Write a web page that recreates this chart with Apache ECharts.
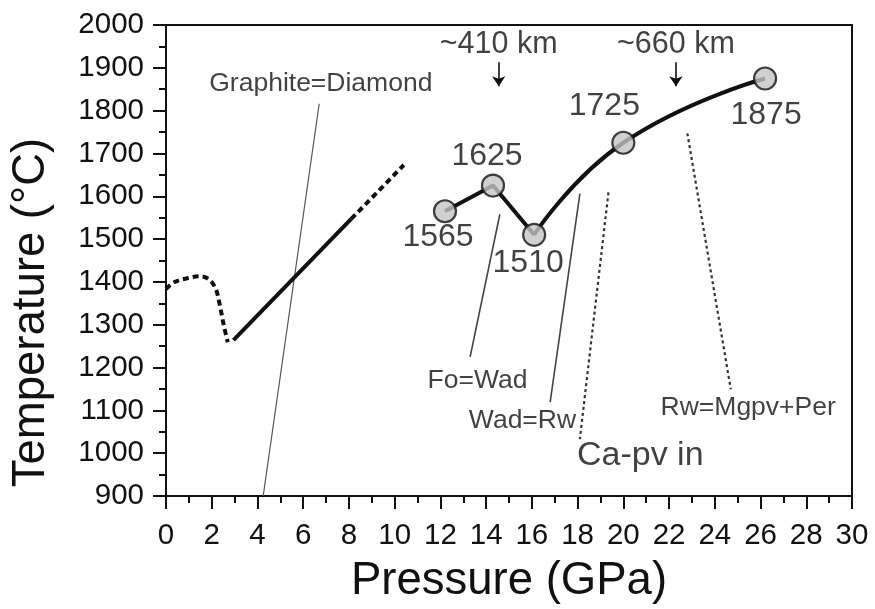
<!DOCTYPE html>
<html>
<head>
<meta charset="utf-8">
<script src="https://cdn.jsdelivr.net/npm/echarts@6/dist/echarts.min.js"></script>
<style>
  html, body { margin: 0; padding: 0; background: #fff; overflow: hidden; }
  #chart { width: 875px; height: 609px; display: block; }
</style>
</head>
<body>
<div id="chart"></div>
<script>
// Adiabat temperatures along the mantle profile (pressure in GPa, temperature in °C)
const pressure = [12.2, 14.3, 16.1, 20.0, 26.2];
const temperature = [1565, 1625, 1510, 1725, 1875];

// Shallow geotherm: dashed knee, solid segment, dashed extension
const shallowKnee = [[0.0, 1383], [0.35, 1399], [0.96, 1409], [1.48, 1413], [1.88, 1406], [2.18, 1383], [2.36, 1344], [2.53, 1298], [2.7, 1259]];
const shallowSolid = [[2.95, 1264], [8.1, 1547]];
const shallowDashed = [[8.1, 1547], [10.4, 1673]];

// Phase boundaries
const graphiteDiamond = [[4.25, 900], [6.7, 1816]];
const foWad = [[14.6, 1558], [13.3, 1225]];
const wadRw = [[18.1, 1606], [16.8, 1119]];
const caPvIn = [[19.35, 1609], [18.1, 1033]];
const rwMgpvPer = [[22.8, 1747], [24.7, 1149]];

// Depth markers: label, pressure, arrow top, arrow tip, label height
const depthMarks = [['~410 km', 14.55, 1913, 1857, 1954], ['~660 km', 22.3, 1913, 1857, 1954]];

// Boundary names anchored in data space: text, pressure, temperature
const boundaryNotes = [
  ['Graphite=Diamond', 6.77, 1864],
  ['Fo=Wad', 13.62, 1169],
  ['Wad=Rw', 15.59, 1075],
  ['Rw=Mgpv+Per', 25.46, 1107]
];
const capvNote = ['Ca-pv in', 20.74, 994];

// Axis ranges: min, max, step
const xRange = [0, 30, 2];
const yRange = [900, 2000, 100];

const FONT = '"Liberation Sans", Arial, Helvetica, sans-serif';
const INK = '#111';

const points = pressure.map((p, i) => [p, temperature[i]]);
const labelOffsets = [[-7, 26], [-6, -29], [-6, 28], [-19, -37], [1, 37]];

function segment(name, data, opts) {
  return Object.assign({
    name: name, type: 'line', data: data, symbol: 'none', silent: true,
    lineStyle: { color: INK, width: 4 }, z: 3
  }, opts || {});
}

const series = [
  segment('knee', shallowKnee, { smooth: 0.35, lineStyle: { color: INK, width: 4, type: [6, 4] } }),
  segment('shallow', shallowSolid),
  segment('shallowExt', shallowDashed, { lineStyle: { color: INK, width: 4, type: [6, 4] } }),
  segment('Graphite=Diamond', graphiteDiamond, { lineStyle: { color: '#555', width: 1.2 }, z: 2 }),
  segment('Fo=Wad', foWad, { lineStyle: { color: '#444', width: 1.6 }, z: 2 }),
  segment('Wad=Rw', wadRw, { lineStyle: { color: '#444', width: 1.6 }, z: 2 }),
  segment('Ca-pv in', caPvIn, { lineStyle: { color: '#333', width: 2.2, type: [3, 3] }, z: 2 }),
  segment('Rw=Mgpv+Per', rwMgpvPer, { lineStyle: { color: '#333', width: 2.2, type: [3, 3] }, z: 2 }),
  segment('adiabatA', points.slice(0, 3)),
  segment('adiabatB', points.slice(2), { smooth: 0.5 }),
  {
    name: 'adiabat points', type: 'scatter', silent: true, z: 5,
    symbol: 'circle', symbolSize: 22,
    itemStyle: { color: '#c4c4c4', borderColor: INK, borderWidth: 2.2 },
    data: points.map((pt, i) => ({
      value: pt,
      label: { show: true, position: 'inside', offset: labelOffsets[i] }
    })),
    label: {
      formatter: p => String(p.value[1]),
      fontFamily: FONT, fontSize: 32, color: INK
    }
  },
  {
    name: 'depth arrows', type: 'line', data: [], silent: true,
    markLine: {
      silent: true,
      lineStyle: { color: INK, width: 1.6, type: 'solid' },
      label: { show: false },
      data: depthMarks.map(d => [
        { coord: [d[1], d[2]], symbol: 'none' },
        { coord: [d[1], d[3]], symbol: 'arrow', symbolSize: 10 }
      ])
    }
  },
  {
    name: 'notes', type: 'scatter', silent: true, symbolSize: 0, z: 6,
    itemStyle: { color: 'transparent' },
    label: { show: true, position: 'inside', formatter: p => p.name, fontFamily: FONT, color: INK },
    data: [
      ...boundaryNotes.map(n => ({ name: n[0], value: [n[1], n[2]], label: { fontSize: 26.5 } })),
      { name: capvNote[0], value: [capvNote[1], capvNote[2]], label: { fontSize: 34 } },
      ...depthMarks.map(d => ({ name: d[0], value: [d[1], d[4]], label: { fontSize: 30.5 } }))
    ]
  }
];

const chart = echarts.init(document.getElementById('chart'), null, { renderer: 'canvas', width: 875, height: 609 });
chart.setOption({
  animation: false,
  backgroundColor: '#fff',
  textStyle: { fontFamily: FONT },
  grid: {
    left: 165, right: 23, top: 25, bottom: 106,
    show: true, borderColor: INK, borderWidth: 2, backgroundColor: 'transparent'
  },
  xAxis: {
    type: 'value', min: xRange[0], max: xRange[1], interval: xRange[2],
    name: 'Pressure (GPa)', nameLocation: 'middle', nameGap: 62,
    nameTextStyle: { fontFamily: FONT, fontSize: 45.5, color: INK },
    axisLine: { show: true, lineStyle: { color: INK, width: 2 } },
    axisTick: { show: true, length: 13, lineStyle: { color: INK, width: 2 } },
    minorTick: { show: true, splitNumber: 2, length: 7, lineStyle: { color: INK, width: 2 } },
    axisLabel: { fontFamily: FONT, fontSize: 29.5, color: INK, margin: 25, formatter: v => String(v) },
    splitLine: { show: false }
  },
  yAxis: {
    type: 'value', min: yRange[0], max: yRange[1], interval: yRange[2],
    name: 'Temperature (°C)', nameLocation: 'middle', nameGap: 112, nameRotate: 90,
    nameTextStyle: { fontFamily: FONT, fontSize: 45.5, color: INK, padding: [0, 104, 0, 0] },
    axisLine: { show: true, lineStyle: { color: INK, width: 2 } },
    axisTick: { show: true, length: 13, lineStyle: { color: INK, width: 2 } },
    minorTick: { show: true, splitNumber: 2, length: 7, lineStyle: { color: INK, width: 2 } },
    axisLabel: { fontFamily: FONT, fontSize: 29.5, color: INK, margin: 22, formatter: v => String(v) },
    splitLine: { show: false }
  },
  series: series
});
</script>
</body>
</html>
